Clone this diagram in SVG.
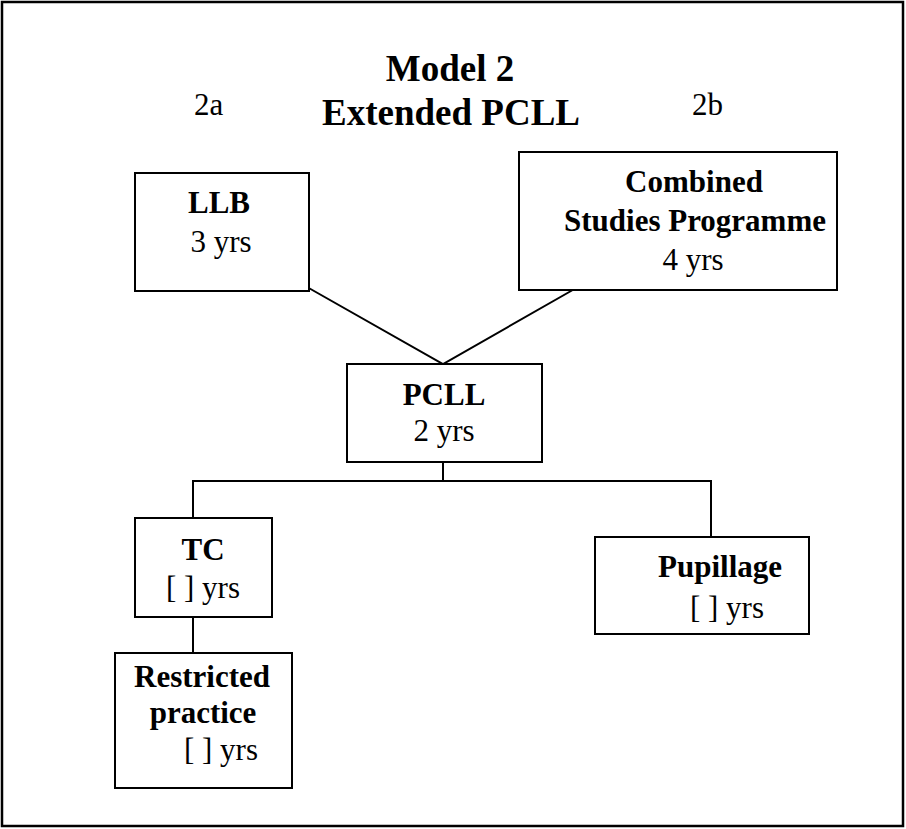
<svg xmlns="http://www.w3.org/2000/svg" width="906" height="829" viewBox="0 0 906 829" font-family="Liberation Serif, Times New Roman, serif">
<style>
.box{fill:#fff;stroke:#000;stroke-width:2}
.ln{fill:none;stroke:#000;stroke-width:2}
text{fill:#000;text-anchor:middle}
.b{font-weight:bold;font-size:31px}
.n{font-size:31px}
.t{font-weight:bold;font-size:37px}
</style>
<rect x="0" y="0" width="906" height="829" fill="#fff"/>
<rect x="2" y="2" width="901" height="824" fill="none" stroke="#000" stroke-width="2.5"/>
<g id="title">
<text class="t" x="450" y="81">Model 2</text>
<text class="t" x="451" y="125">Extended PCLL</text>
<text class="n" x="194" y="115" style="text-anchor:start">2a</text>
<text class="n" x="692" y="115" style="text-anchor:start">2b</text>
</g>
<g id="connectors">
<path class="ln" d="M307,287 L443,364 L578,287"/>
<path class="ln" d="M443,462 V481 M193,518 V481 H711 V537"/>
<path class="ln" d="M193,617 V653"/>
</g>
<g id="llb">
<rect class="box" x="135" y="173" width="174" height="118"/>
<text class="b" x="219" y="213">LLB</text>
<text class="n" x="221" y="252">3 yrs</text>
</g>
<g id="combined">
<rect class="box" x="519" y="152" width="318" height="138"/>
<text class="b" x="694" y="192">Combined</text>
<text class="b" x="695" y="231">Studies Programme</text>
<text class="n" x="693" y="270">4 yrs</text>
</g>
<g id="pcll">
<rect class="box" x="347" y="364" width="195" height="98"/>
<text class="b" x="444" y="405">PCLL</text>
<text class="n" x="444" y="441">2 yrs</text>
</g>
<g id="tc">
<rect class="box" x="135" y="518" width="137" height="99"/>
<text class="b" x="203" y="560">TC</text>
<text class="n" x="203" y="598">[ ] yrs</text>
</g>
<g id="pupillage">
<rect class="box" x="595" y="537" width="214" height="97"/>
<text class="b" x="720" y="577">Pupillage</text>
<text class="n" x="727" y="618">[ ] yrs</text>
</g>
<g id="restricted">
<rect class="box" x="115" y="653" width="177" height="135"/>
<text class="b" x="202" y="687">Restricted</text>
<text class="b" x="203" y="723">practice</text>
<text class="n" x="221" y="760">[ ] yrs</text>
</g>
</svg>
